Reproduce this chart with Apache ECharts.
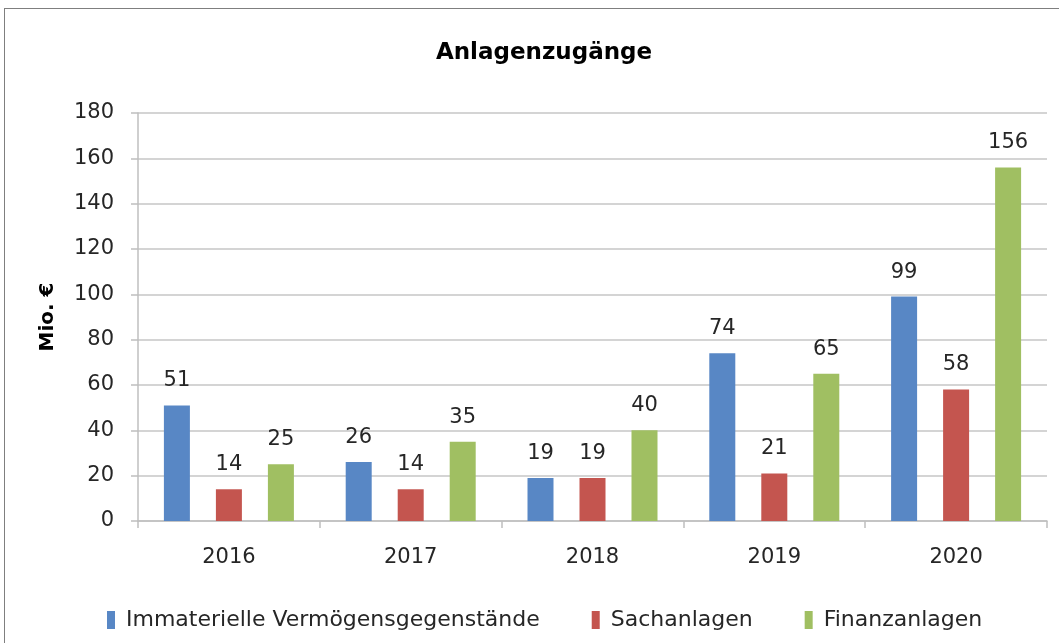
<!DOCTYPE html>
<html><head><meta charset="utf-8">
<script src="https://cdn.jsdelivr.net/npm/echarts@6/dist/echarts.min.js"></script>
<style>
html,body{margin:0;padding:0;background:#fff;}
#frame{position:absolute;left:4px;top:8px;width:1100px;height:700px;border:1.5px solid #7f7f7f;box-sizing:border-box;}
#c{position:absolute;left:0;top:0;width:1059px;height:643px;}
</style></head>
<body>
<div id="frame"></div>
<div id="c"></div>
<script>
const categories = ['2016','2017','2018','2019','2020'];
const immateriell = [51, 26, 19, 74, 99];
const sachanlagen = [14, 14, 19, 21, 58];
const finanzanlagen = [25, 35, 40, 65, 156];
const seriesNames = ['Immaterielle Vermögensgegenstände','Sachanlagen','Finanzanlagen'];
const colors = ['#5887C5','#C4554F','#A0BF62'];
const FONT = 'DejaVu Sans';
const chart = echarts.init(document.getElementById('c'), null, {renderer:'canvas'});
const lbl = {show:true, position:'top', distance:14, color:'#262626', fontFamily:FONT, fontSize:21};
function mk(name, data, i){
  return {name, type:'bar', data, barWidth:26, barGap:'100%', itemStyle:{color:colors[i]}, label:lbl};
}
chart.setOption({
  animation:false,
  title:{text:'Anlagenzugänge', left:539, top:37, textAlign:'center',
    textStyle:{fontFamily:FONT, fontWeight:'bold', fontSize:23, color:'#000'}},
  legend:{bottom:7, left:102, itemWidth:8, itemHeight:18, itemGap:52,
    icon:'rect', textStyle:{fontFamily:FONT, fontSize:22, color:'#262626', padding:[0,0,0,6]},
    data:seriesNames},
  grid:{left:138, right:12, top:113, bottom:122},
  xAxis:{type:'category', data:categories,
    axisLine:{lineStyle:{color:'#bfbfbf', width:1.5}},
    axisTick:{show:true, length:7, lineStyle:{color:'#bfbfbf', width:1.5}},
    axisLabel:{fontFamily:FONT, fontSize:21, color:'#262626', margin:26}},
  yAxis:{type:'value', min:0, max:180, interval:20,
    name:'Mio. €', nameLocation:'middle', nameGap:80, nameRotate:90,
    nameTextStyle:{fontFamily:FONT, fontWeight:'bold', fontSize:20, color:'#000'},
    axisLine:{show:true, lineStyle:{color:'#bfbfbf', width:1.5}},
    axisTick:{show:true, length:7, lineStyle:{color:'#bfbfbf', width:1.5}},
    splitLine:{lineStyle:{color:'#d4d4d4', width:2}},
    axisLabel:{fontFamily:FONT, fontSize:21, color:'#262626', margin:24}},
  series:[mk(seriesNames[0], immateriell, 0), mk(seriesNames[1], sachanlagen, 1), mk(seriesNames[2], finanzanlagen, 2)]
});
</script>
</body></html>
